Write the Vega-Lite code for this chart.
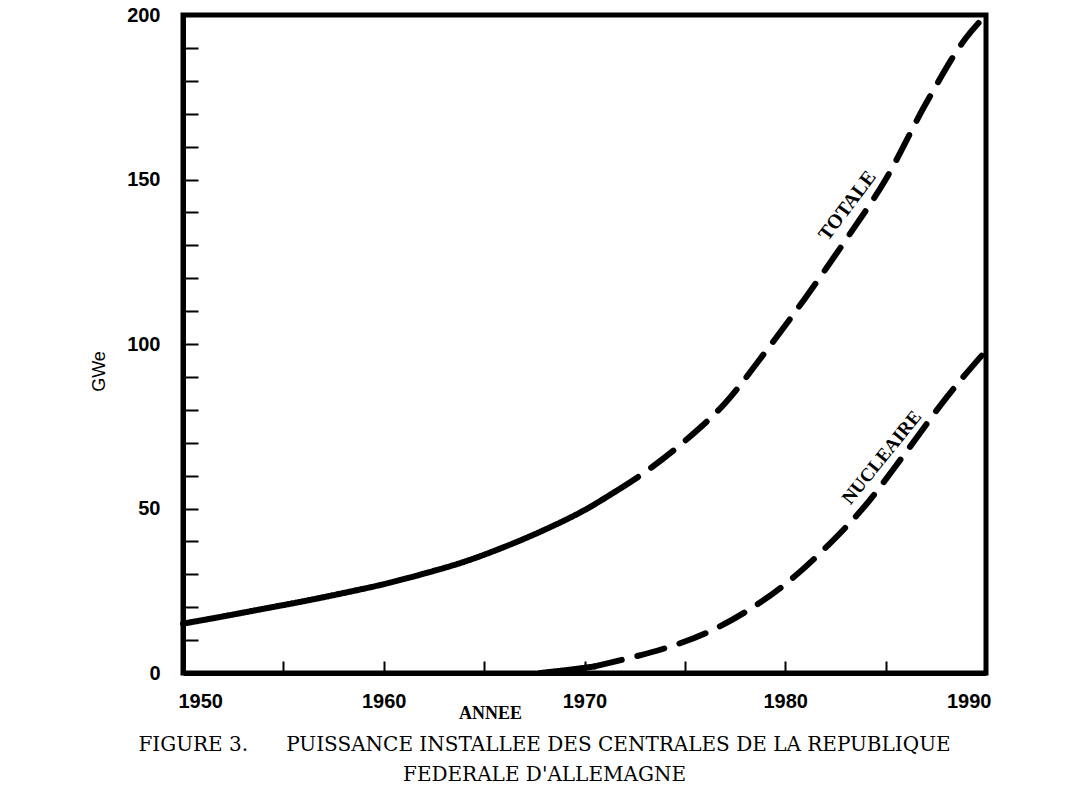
{
  "$schema": "https://vega.github.io/schema/vega-lite/v6.json",
  "width": 803,
  "height": 658,
  "autosize": {"type": "none"},
  "padding": {"left": 183, "top": 15, "right": 96, "bottom": 127},
  "background": "white",
  "config": {
    "view": {"stroke": "black", "strokeWidth": 5},
    "axis": {"grid": false}
  },
  "title": {
    "text": ["FIGURE 3.\u00a0\u00a0\u00a0\u00a0\u00a0 PUISSANCE INSTALLEE DES CENTRALES DE LA REPUBLIQUE", "\u00a0\u00a0\u00a0\u00a0\u00a0\u00a0\u00a0\u00a0\u00a0\u00a0\u00a0\u00a0\u00a0FEDERALE D'ALLEMAGNE"],
    "orient": "bottom",
    "anchor": "middle",
    "font": "DejaVu Serif",
    "fontSize": 20,
    "fontWeight": "normal",
    "color": "black",
    "lineHeight": 30,
    "offset": 13,
    "dx": -40
  },
  "datasets": {
    "courbes": [
      {"serie": "TOTALE", "periode": "réel", "annee": 1950, "gwe": 15},
      {"serie": "TOTALE", "periode": "réel", "annee": 1952, "gwe": 17.2},
      {"serie": "TOTALE", "periode": "réel", "annee": 1954, "gwe": 19.5},
      {"serie": "TOTALE", "periode": "réel", "annee": 1956, "gwe": 21.8},
      {"serie": "TOTALE", "periode": "réel", "annee": 1958, "gwe": 24.3},
      {"serie": "TOTALE", "periode": "réel", "annee": 1960, "gwe": 27},
      {"serie": "TOTALE", "periode": "réel", "annee": 1962, "gwe": 30.2},
      {"serie": "TOTALE", "periode": "réel", "annee": 1964, "gwe": 33.8},
      {"serie": "TOTALE", "periode": "réel", "annee": 1966, "gwe": 38.3},
      {"serie": "TOTALE", "periode": "réel", "annee": 1968, "gwe": 43.5},
      {"serie": "TOTALE", "periode": "réel", "annee": 1970, "gwe": 49.5},
      {"serie": "TOTALE", "periode": "réel", "annee": 1971.5, "gwe": 55},
      {"serie": "TOTALE", "periode": "prévision", "annee": 1971.5, "gwe": 55},
      {"serie": "TOTALE", "periode": "prévision", "annee": 1973, "gwe": 61},
      {"serie": "TOTALE", "periode": "prévision", "annee": 1975, "gwe": 70.5},
      {"serie": "TOTALE", "periode": "prévision", "annee": 1977, "gwe": 82},
      {"serie": "TOTALE", "periode": "prévision", "annee": 1979, "gwe": 97.5},
      {"serie": "TOTALE", "periode": "prévision", "annee": 1981, "gwe": 114},
      {"serie": "TOTALE", "periode": "prévision", "annee": 1983, "gwe": 131.5},
      {"serie": "TOTALE", "periode": "prévision", "annee": 1985, "gwe": 150},
      {"serie": "TOTALE", "periode": "prévision", "annee": 1987, "gwe": 173},
      {"serie": "TOTALE", "periode": "prévision", "annee": 1989, "gwe": 193},
      {"serie": "TOTALE", "periode": "prévision", "annee": 1990, "gwe": 200},
      {"serie": "NUCLEAIRE", "periode": "réel", "annee": 1967.8, "gwe": 0},
      {"serie": "NUCLEAIRE", "periode": "réel", "annee": 1969, "gwe": 0.8},
      {"serie": "NUCLEAIRE", "periode": "réel", "annee": 1970.5, "gwe": 2},
      {"serie": "NUCLEAIRE", "periode": "prévision", "annee": 1970.5, "gwe": 2},
      {"serie": "NUCLEAIRE", "periode": "prévision", "annee": 1972, "gwe": 4.2},
      {"serie": "NUCLEAIRE", "periode": "prévision", "annee": 1974, "gwe": 7.5},
      {"serie": "NUCLEAIRE", "periode": "prévision", "annee": 1976, "gwe": 12},
      {"serie": "NUCLEAIRE", "periode": "prévision", "annee": 1978, "gwe": 18.5},
      {"serie": "NUCLEAIRE", "periode": "prévision", "annee": 1980, "gwe": 27},
      {"serie": "NUCLEAIRE", "periode": "prévision", "annee": 1982, "gwe": 38},
      {"serie": "NUCLEAIRE", "periode": "prévision", "annee": 1984, "gwe": 51},
      {"serie": "NUCLEAIRE", "periode": "prévision", "annee": 1986, "gwe": 67},
      {"serie": "NUCLEAIRE", "periode": "prévision", "annee": 1988, "gwe": 83.5},
      {"serie": "NUCLEAIRE", "periode": "prévision", "annee": 1990, "gwe": 98}
    ],
    "etiquettes": [
      {"nom": "TOTALE", "annee": 1983.1, "gwe": 142},
      {"nom": "NUCLEAIRE", "annee": 1984.8, "gwe": 65.5}
    ]
  },
  "encoding": {
    "x": {
      "field": "annee",
      "type": "quantitative",
      "scale": {"domain": [1950, 1990], "nice": false, "zero": false},
      "axis": {
        "values": [1950, 1955, 1960, 1965, 1970, 1975, 1980, 1985, 1990],
        "format": "d",
        "labelExpr": "datum.value % 10 === 0 ? datum.label : ''",
        "domainColor": "black",
        "domainWidth": 5,
        "tickColor": "black",
        "tickWidth": 2,
        "tickSize": -12,
        "labelFont": "Liberation Sans",
        "labelFontWeight": "bold",
        "labelFontSize": 20,
        "labelColor": "black",
        "labelPadding": 30,
        "labelFlush": true,
        "labelFlushOffset": 5,
        "labelOverlap": false,
        "labelBound": false,
        "title": "ANNEE",
        "titleFont": "Liberation Serif",
        "titleFontWeight": "bold",
        "titleFontSize": 18,
        "titleColor": "black",
        "titleAlign": "center",
        "titleBaseline": "middle",
        "titleX": 307,
        "titleY": 40
      }
    },
    "y": {
      "field": "gwe",
      "type": "quantitative",
      "scale": {"domain": [0, 200], "nice": false},
      "axis": {
        "values": [0, 10, 20, 30, 40, 50, 60, 70, 80, 90, 100, 110, 120, 130, 140, 150, 160, 170, 180, 190, 200],
        "labelExpr": "datum.value % 50 === 0 ? datum.label : ''",
        "domainColor": "black",
        "domainWidth": 5,
        "tickColor": "black",
        "tickWidth": 2,
        "tickSize": -15,
        "labelFont": "Liberation Sans",
        "labelFontWeight": "bold",
        "labelFontSize": 20,
        "labelColor": "black",
        "labelPadding": 38,
        "labelFlush": false,
        "labelOverlap": false,
        "labelBound": false,
        "title": "GWe",
        "titleFont": "Liberation Sans",
        "titleFontWeight": "normal",
        "titleFontSize": 18,
        "titleColor": "black",
        "titleAngle": -90,
        "titleAlign": "center",
        "titleBaseline": "middle",
        "titleX": -84,
        "titleY": 356
      }
    }
  },
  "layer": [
    {
      "data": {"name": "courbes"},
      "mark": {"type": "line", "color": "black", "strokeWidth": 6, "interpolate": "monotone", "strokeCap": "round"},
      "encoding": {
        "strokeDash": {
          "field": "periode",
          "type": "nominal",
          "scale": {"domain": ["réel", "prévision"], "range": [[1, 0], [28, 16]]},
          "legend": null
        },
        "detail": {"field": "serie"}
      }
    },
    {
      "data": {"name": "etiquettes"},
      "transform": [{"filter": "datum.nom === 'TOTALE'"}],
      "mark": {"type": "text", "angle": -53, "font": "Liberation Serif", "fontWeight": "bold", "fontSize": 20, "color": "black", "align": "center", "baseline": "middle"},
      "encoding": {"text": {"field": "nom"}}
    },
    {
      "data": {"name": "etiquettes"},
      "transform": [{"filter": "datum.nom === 'NUCLEAIRE'"}],
      "mark": {"type": "text", "angle": -51, "font": "Liberation Serif", "fontWeight": "bold", "fontSize": 19, "color": "black", "align": "center", "baseline": "middle"},
      "encoding": {"text": {"field": "nom"}}
    }
  ]
}
